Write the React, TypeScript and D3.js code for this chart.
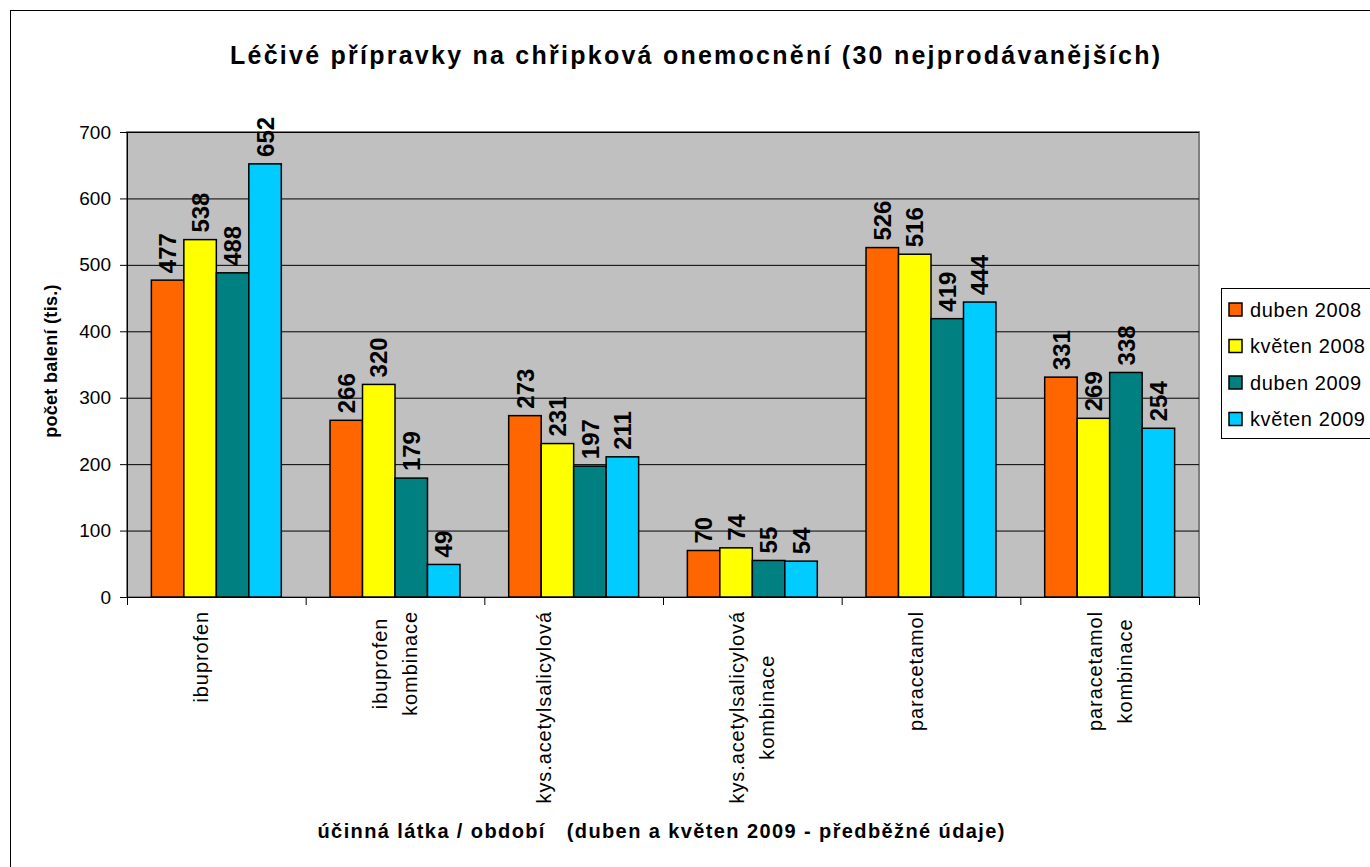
import React, { useEffect, useRef } from 'react';
import * as d3 from 'd3';

const categories = [
  ['ibuprofen', ''],
  ['ibuprofen', 'kombinace'],
  ['kys.acetylsalicylová', '', ''],
  ['kys.acetylsalicylová', 'kombinace'],
  ['paracetamol', ''],
  ['paracetamol', 'kombinace'],
];
const seriesNames = ['duben 2008', 'květen 2008', 'duben 2009', 'květen 2009'];
const seriesColors = ['#FF6600', '#FFFF00', '#008080', '#00CCFF'];
const duben2008 = [477, 266, 273, 70, 526, 331];
const kveten2008 = [538, 320, 231, 74, 516, 269];
const duben2009 = [488, 179, 197, 55, 419, 338];
const kveten2009 = [652, 49, 211, 54, 444, 254];
const series = [duben2008, kveten2008, duben2009, kveten2009];
const yTicks = [0, 100, 200, 300, 400, 500, 600, 700];

const W = 1370, H = 867;
const plot = { left: 127, right: 1199, top: 132, bottom: 597 };
const FONT = '"Liberation Sans", Arial, sans-serif';

export default function App() {
  const svgRef = useRef<SVGSVGElement>(null);

  useEffect(() => {
    const svg = d3.select(svgRef.current);
    svg.selectAll('*').remove();

    svg.append('rect').attr('x', 10.5).attr('y', 10.5).attr('width', W + 20).attr('height', H + 20)
      .attr('fill', '#fff').attr('stroke', '#000');

    const x = d3.scaleBand<number>().domain(d3.range(categories.length)).range([plot.left, plot.right]);
    const y = d3.scaleLinear().domain([0, 700]).range([plot.bottom, plot.top]);
    const barW = x.step() / (series.length + 1.5);
    const barX = (ci: number, si: number) => x(ci)! + 0.75 * barW + si * barW;

    // plot area
    svg.append('rect').attr('x', plot.left).attr('y', plot.top)
      .attr('width', plot.right - plot.left).attr('height', plot.bottom - plot.top)
      .attr('fill', '#C0C0C0').attr('stroke', '#808080').attr('stroke-width', 2);

    svg.append('g').selectAll('line').data(yTicks.slice(1)).join('line')
      .attr('x1', plot.left).attr('x2', plot.right)
      .attr('y1', d => y(d) + 0.5).attr('y2', d => y(d) + 0.5)
      .attr('stroke', '#000').attr('stroke-width', 1);

    // bars
    series.forEach((vals, si) => {
      svg.append('g').selectAll('rect').data(vals).join('rect')
        .attr('x', (d, ci) => barX(ci, si)).attr('width', barW)
        .attr('y', d => y(d)).attr('height', d => y(0) - y(d))
        .attr('fill', seriesColors[si]).attr('stroke', '#000').attr('stroke-width', 1.5);
      svg.append('g').selectAll('text').data(vals).join('text')
        .attr('transform', (d, ci) => `translate(${barX(ci, si) + barW / 2},${y(d) - 7}) rotate(-90)`)
        .attr('dy', '0.36em')
        .attr('font-family', FONT).attr('font-size', 24).attr('font-weight', 'bold')
        .text(d => d);
    });

    // y axis
    const yAxis = svg.append('g').attr('transform', `translate(${plot.left},0)`)
      .call(d3.axisLeft(y).tickValues(yTicks).tickSize(7).tickPadding(9).tickSizeOuter(0));
    yAxis.select('.domain').attr('stroke', '#000');
    yAxis.selectAll('text').attr('font-family', FONT).attr('font-size', 19).attr('fill', '#000');

    // x axis
    svg.append('line').attr('x1', plot.left).attr('x2', plot.right)
      .attr('y1', plot.bottom + 0.5).attr('y2', plot.bottom + 0.5).attr('stroke', '#000');
    svg.append('g').selectAll('line').data(d3.range(categories.length + 1)).join('line')
      .attr('x1', i => plot.left + i * x.step() + 0.5).attr('x2', i => plot.left + i * x.step() + 0.5)
      .attr('y1', plot.bottom).attr('y2', plot.bottom + 8).attr('stroke', '#000');

    const lineH = 30;
    categories.forEach((lines, ci) => {
      const cx = x(ci)! + x.bandwidth() / 2;
      const g = svg.append('g');
      const texts = g.selectAll('text').data(lines).join('text')
        .attr('font-family', FONT).attr('font-size', 20).attr('letter-spacing', 0.9)
        .attr('text-anchor', 'middle')
        .attr('dy', '0.35em').text(d => d);
      let maxLen = 0;
      texts.each(function () { maxLen = Math.max(maxLen, (this as SVGTextElement).getComputedTextLength()); });
      const cy = 611 + maxLen / 2;
      texts.attr('transform', (d, i) =>
        `translate(${cx + (i - (lines.length - 1) / 2) * lineH},${cy}) rotate(-90)`);
    });

    // titles
    svg.append('text').attr('x', 695).attr('y', 64).attr('text-anchor', 'middle')
      .attr('font-family', FONT).attr('font-size', 25).attr('font-weight', 'bold')
      .attr('textLength', 930).attr('lengthAdjust', 'spacing')
      .text('Léčivé přípravky na chřipková onemocnění (30 nejprodávanějších)');
    svg.append('text').attr('x', 661).attr('y', 838).attr('text-anchor', 'middle')
      .attr('font-family', FONT).attr('font-size', 20).attr('font-weight', 'bold')
      .attr('textLength', 687).attr('lengthAdjust', 'spacing').attr('xml:space', 'preserve')
      .text('účinná látka / období   (duben a květen 2009 - předběžné údaje)');
    svg.append('text').attr('transform', 'translate(57,361) rotate(-90)').attr('text-anchor', 'middle')
      .attr('font-family', FONT).attr('font-size', 18).attr('font-weight', 'bold')
      .attr('letter-spacing', 0.3)
      .text('počet balení (tis.)');

    // legend
    const lg = svg.append('g');
    lg.append('rect').attr('x', 1221.5).attr('y', 288.5).attr('width', 170).attr('height', 150)
      .attr('fill', '#fff').attr('stroke', '#000');
    const item = lg.selectAll('g.item').data(seriesNames).join('g')
      .attr('transform', (d, i) => `translate(1229,${303 + i * 36.5})`);
    item.append('rect').attr('width', 13).attr('height', 13)
      .attr('fill', (d, i) => seriesColors[i]).attr('stroke', '#000').attr('stroke-width', 1.5);
    item.append('text').attr('x', 21).attr('y', 6.5).attr('dy', '0.35em')
      .attr('font-family', FONT).attr('font-size', 20).attr('letter-spacing', 0.6).text(d => d);
  }, []);

  return (
    <svg ref={svgRef} width={W} height={H}
      style={{ position: 'absolute', left: 0, top: 0, background: '#fff' }} />
  );
}
